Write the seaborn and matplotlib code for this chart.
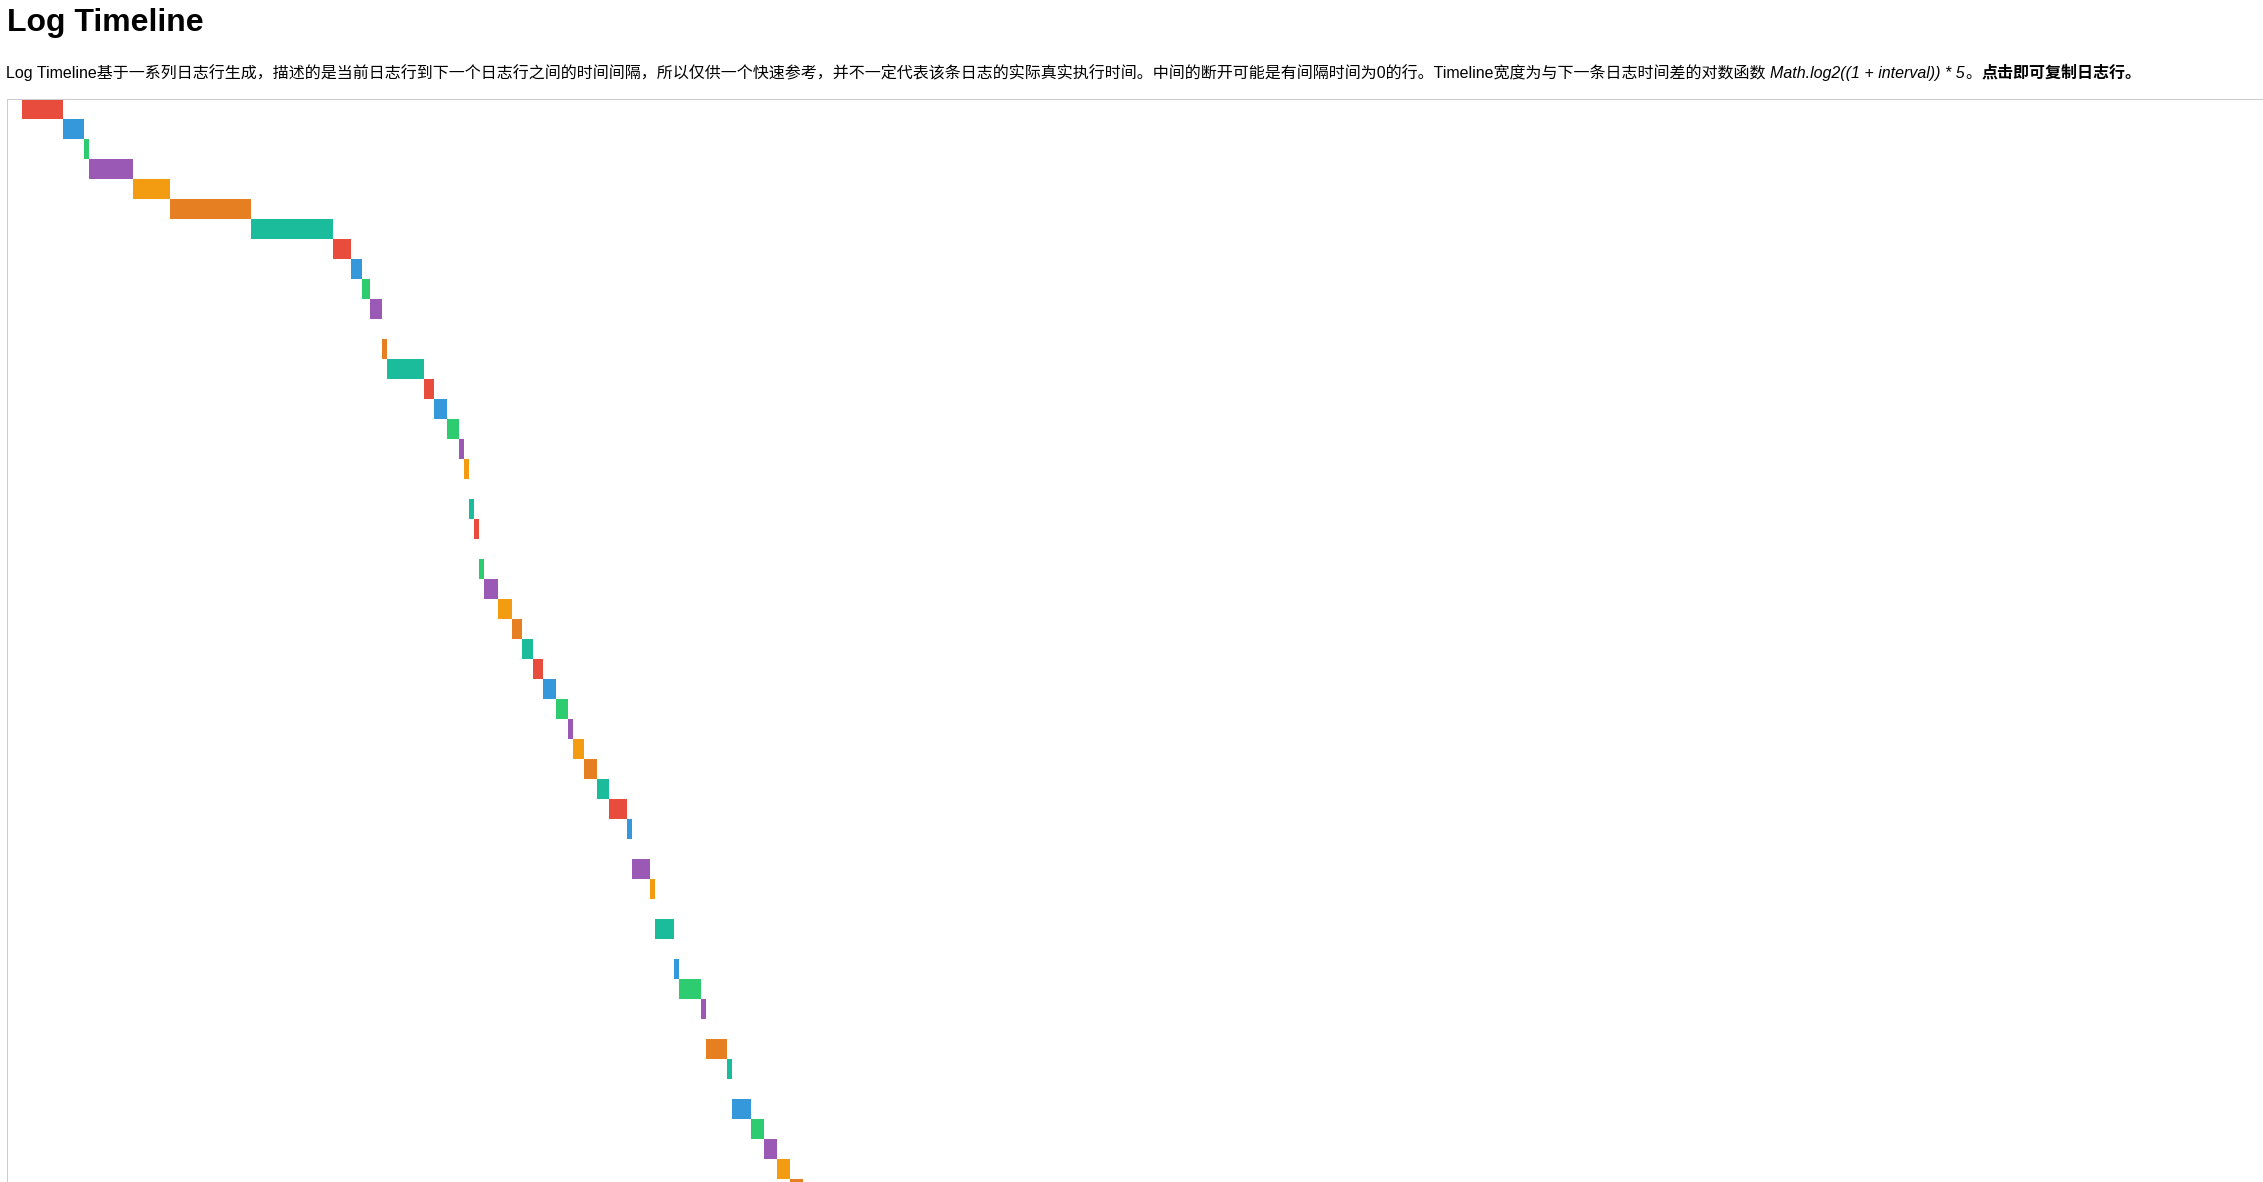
import matplotlib
matplotlib.use("Agg")
import matplotlib.pyplot as plt
import pandas as pd
import seaborn as sns

# timeline width of each log line (5 * log2(1 + interval))
widths = [41, 21, 5, 44, 37, 81, 82, 18, 11, 8, 12, 0, 5, 37, 10,
          13, 12, 5, 5, 0, 5, 5, 0, 5, 14, 14, 10, 11, 10, 13,
          12, 5, 11, 13, 12, 18, 5, 0, 18, 5, 0, 19, 0, 5, 22,
          5, 0, 21, 5, 0, 19, 13, 13, 13, 13]
palette = ["#e74c3c", "#3498db", "#2ecc71", "#9b59b6", "#f39c12", "#e67e22", "#1abc9c"]

title = "Log Timeline"
desc_plain = ("Log Timeline基于一系列日志行生成，描述的是当前日志行到下一个日志行之间的时间间隔，"
              "所以仅供一个快速参考，并不一定代表该条日志的实际真实执行时间。"
              "中间的断开可能是有间隔时间为0的行。Timeline宽度为与下一条日志时间差的对数函数")
desc_formula = "Math.log2((1 + interval)) * 5"
desc_bold = "点击即可复制日志行。"

df = pd.DataFrame({"line": [f"L{i}" for i in range(len(widths))], "width": widths})
df["end"] = df["width"].cumsum()
df["start"] = df["end"] - df["width"]
colors = [palette[i % len(palette)] for i in range(len(df))]

sns.set_theme(style="white")
plt.rcParams["font.family"] = ["Liberation Sans", "Noto Sans CJK SC"]

W, H = 2263, 1182
fig = plt.figure(figsize=(W / 100, H / 100), dpi=100)
fig.patch.set_facecolor("white")

ax = fig.add_axes([6.5 / W, 0, 1 - 6.5 / W, 1 - 98.5 / H])
# coloured bar up to the end of each segment, then blank out everything before its start
sns.barplot(data=df, x="end", y="line", hue="line", palette=colors, orient="y",
            width=1, errorbar=None, saturation=1, linewidth=0, legend=False, ax=ax)
sns.barplot(data=df, x="start", y="line", color="white", orient="y",
            width=1, errorbar=None, saturation=1, linewidth=0, ax=ax)
ax.set_xlim(-15.5, W - 22)
ax.set_ylim(-0.525 + (H - 98.5) / 20, -0.525)
ax.set_xticks([])
ax.set_yticks([])
ax.set_xlabel("")
ax.set_ylabel("")
ax.set_facecolor("white")
for side in ["right", "bottom"]:
    ax.spines[side].set_visible(False)
for side in ["left", "top"]:
    ax.spines[side].set_color("#cccccc")
    ax.spines[side].set_linewidth(0.72)

fig.text(7 / W, 1 - 31 / H, title, fontsize=23.04, weight="bold",
         ha="left", va="baseline", color="black")

renderer = fig.canvas.get_renderer()
x = 6.5
pieces = [(desc_plain, "normal", "normal", 4.5),
          (desc_formula, "italic", "normal", 0),
          ("。", "normal", "normal", 0),
          (desc_bold, "normal", "bold", 0)]
for s, style, weight, gap in pieces:
    t = fig.text(x / W, 1 - 78 / H, s, fontsize=11.52, style=style, weight=weight,
                 ha="left", va="baseline", color="black")
    x += t.get_window_extent(renderer).width + gap

fig.savefig("out.png", dpi=100)
